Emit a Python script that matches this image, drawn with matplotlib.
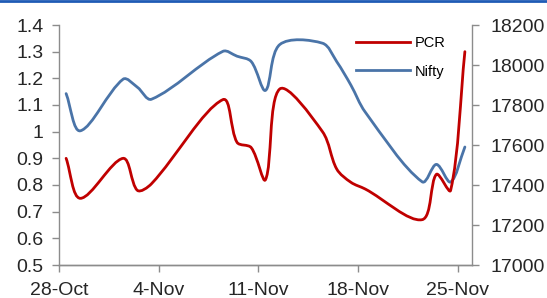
import matplotlib

matplotlib.use("Agg")
import matplotlib.dates as mdates
import matplotlib.pyplot as plt
import numpy as np
import pandas as pd
from matplotlib.lines import Line2D
from matplotlib.patches import PathPatch
from matplotlib.path import Path
from matplotlib.ticker import FuncFormatter, MultipleLocator

plt.rcParams["font.family"] = ["Liberation Sans", "DejaVu Sans"]

# trading days, PCR (left axis) and Nifty close (right axis)
dates = ["2021-10-28", "2021-10-29", "2021-11-01", "2021-11-02", "2021-11-03",
         "2021-11-08", "2021-11-09", "2021-11-10", "2021-11-11", "2021-11-12",
         "2021-11-15", "2021-11-16", "2021-11-17", "2021-11-18", "2021-11-22",
         "2021-11-23", "2021-11-24", "2021-11-25"]
pcr = [0.90, 0.75, 0.90, 0.78, 0.805, 1.12, 0.96, 0.94, 0.82, 1.16,
       1.00, 0.86, 0.81, 0.785, 0.67, 0.84, 0.78, 1.30]
nifty = [17857, 17671, 17929, 17889, 17829, 18068, 18044, 18017, 17873, 18102,
         18109, 18017, 17899, 17765, 17416, 17503, 17415, 17590]

tick_dates = ["2021-10-28", "2021-11-04", "2021-11-11", "2021-11-18", "2021-11-25"]
tick_labels = ["28-Oct", "4-Nov", "11-Nov", "18-Nov", "25-Nov"]

RED = "#C00000"
BLUE = "#4A74A8"
GREY = "#8C8C8C"
TEXT = "#262626"


def smooth_path(ax, x, y):
    """Wygładzona linia jak w Excelu: Bezier liczony w pikselach,
    styczne skalowane długością sąsiednich odcinków (bez pętli przy
    nierównych odstępach dat)."""
    tr = ax.transData
    p = tr.transform(np.column_stack([x, y]))
    n = len(p)
    fwd, back = [], []
    for i in range(n):
        a = p[max(i - 1, 0)]
        b = p[min(i + 1, n - 1)]
        d1 = np.linalg.norm(p[i] - a)
        d2 = np.linalg.norm(b - p[i])
        tot = d1 + d2 if d1 + d2 > 0 else 1.0
        t = b - a
        fwd.append(p[i] + t * d2 / tot / 3)
        back.append(p[i] - t * d1 / tot / 3)
    verts = [p[0]]
    codes = [Path.MOVETO]
    for i in range(n - 1):
        verts += [fwd[i], back[i + 1], p[i + 1]]
        codes += [Path.CURVE4] * 3
    return Path(tr.inverted().transform(np.array(verts)), codes)


x = mdates.date2num(pd.to_datetime(dates)) + 0.5  # punkty w środku dnia

fig = plt.figure(figsize=(5.47, 2.98), dpi=100)
ax = fig.add_axes([59 / 547, 33 / 298, (472 - 59) / 547, 240 / 298])
ax2 = ax.twinx()
ax.set_zorder(ax2.get_zorder() + 1)
ax.patch.set_visible(False)

ax.set_xlim(mdates.date2num(pd.Timestamp("2021-10-28")),
            mdates.date2num(pd.Timestamp("2021-11-26")))
ax.set_ylim(0.5, 1.4)
ax2.set_ylim(17000, 18200)

ax2.add_patch(PathPatch(smooth_path(ax2, x, nifty), fill=False, edgecolor=BLUE,
                        lw=2.0, capstyle="round", joinstyle="round"))
ax.add_patch(PathPatch(smooth_path(ax, x, pcr), fill=False, edgecolor=RED,
                       lw=2.0, capstyle="round", joinstyle="round"))

ax.yaxis.set_major_locator(MultipleLocator(0.1))
ax.yaxis.set_major_formatter(FuncFormatter(lambda v, _: f"{v:g}"))
ax2.yaxis.set_major_locator(MultipleLocator(200))
ax.set_xticks(mdates.date2num(pd.to_datetime(tick_dates)))
ax.set_xticklabels(tick_labels)

for a in (ax, ax2):
    a.spines["top"].set_visible(False)
    for s in a.spines.values():
        s.set_color(GREY)
        s.set_linewidth(1.0)
    a.tick_params(colors=GREY, labelcolor=TEXT, labelsize=14, length=5, width=1.0)
ax.spines["right"].set_visible(False)
ax2.spines["left"].set_visible(False)
ax.tick_params(axis="x", pad=7)
ax.tick_params(axis="y", pad=6)
ax2.tick_params(axis="y", pad=8)

handles = [Line2D([], [], color=RED, lw=2.0), Line2D([], [], color=BLUE, lw=2.0)]
ax.legend(handles, ["PCR", "Nifty"], loc="upper left", frameon=False,
          bbox_to_anchor=(356 / 547, 1 - 36 / 298), bbox_transform=fig.transFigure,
          borderpad=0, borderaxespad=0, handlelength=3.7, handletextpad=0.35,
          labelspacing=1.0, prop={"size": 10.5})

# niebieski pasek u góry, jak w źródłowym raporcie
fig.add_artist(Line2D([0, 1], [1 - 1 / 298] * 2, transform=fig.transFigure,
                      color="#1F5BB5", lw=2.0))

fig.savefig("out.png", dpi=100)
